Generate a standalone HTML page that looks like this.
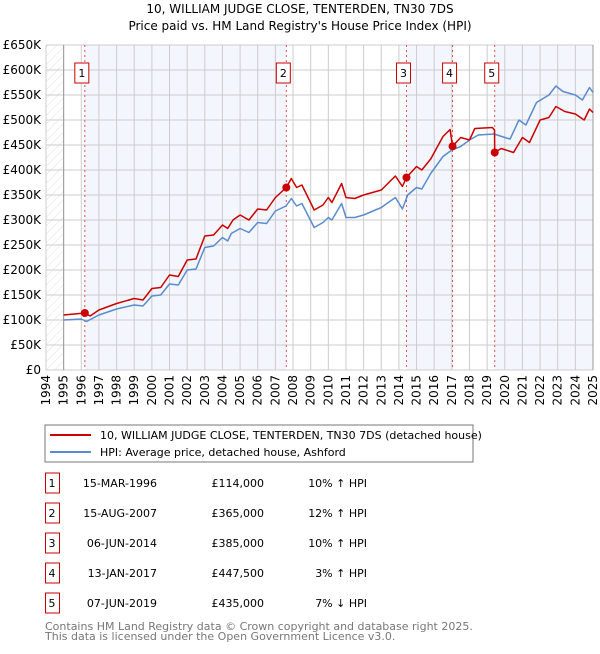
<!DOCTYPE html>
<html><head><meta charset="utf-8"><style>
body{margin:0;background:#fff;font-family:"DejaVu Sans","Liberation Sans",sans-serif;}
svg text{font-family:"DejaVu Sans","Liberation Sans",sans-serif;}
</style></head><body>
<svg id="c" width="600" height="650" xmlns="http://www.w3.org/2000/svg">
<defs><pattern id="hatch" width="6" height="6" patternUnits="userSpaceOnUse" patternTransform="rotate(45)"><line x1="0" y1="0" x2="0" y2="6" stroke="#d8d8d8" stroke-width="0.8"/></pattern></defs>
<text x="300" y="13" text-anchor="middle" font-size="12" fill="#000">10, WILLIAM JUDGE CLOSE, TENTERDEN, TN30 7DS</text>
<text x="300" y="30" text-anchor="middle" font-size="12" fill="#000">Price paid vs. HM Land Registry's House Price Index (HPI)</text>
<g id="plot"></g>
<rect x="45" y="425" width="428" height="37" fill="#fff" stroke="#777"/>
<line x1="50" y1="435" x2="91" y2="435" stroke="#cc0000" stroke-width="2"/>
<text x="100" y="439" font-size="11">10, WILLIAM JUDGE CLOSE, TENTERDEN, TN30 7DS (detached house)</text>
<line x1="50" y1="452" x2="91" y2="452" stroke="#5b8bd0" stroke-width="2"/>
<text x="100" y="456" font-size="11">HPI: Average price, detached house, Ashford</text>
<g id="table" font-size="11"></g>
<text x="45" y="630" font-size="11" fill="#777">Contains HM Land Registry data © Crown copyright and database right 2025.</text>
<text x="45" y="640" font-size="11" fill="#777">This data is licensed under the Open Government Licence v3.0.</text>
</svg>
<script>
const hpiYears=[1995,1996,1996.3,1997,1998,1999,1999.5,2000,2000.5,2001,2001.5,2002,2002.5,2003,2003.5,2004,2004.3,2004.5,2005,2005.5,2006,2006.5,2007,2007.6,2007.9,2008.2,2008.5,2009.2,2009.7,2010,2010.2,2010.75,2011,2011.5,2012,2013,2013.8,2014.2,2014.5,2015,2015.3,2015.8,2016.5,2017,2017.5,2018,2018.5,2019.4,2020,2020.3,2020.8,2021.2,2021.8,2022.5,2022.9,2023.3,2024,2024.4,2024.8,2025];
const hpiValues=[100,102,97,110,122,130,128,148,150,172,170,200,202,245,248,265,258,273,283,275,295,293,318,328,343,328,333,285,295,305,300,333,305,305,310,325,345,322,350,365,362,393,427,440,447,460,470,472,465,462,500,490,535,550,568,557,550,540,565,555];
const priceYears=[1995,1996.2,1996.5,1997,1998,1999,1999.5,2000,2000.5,2001,2001.5,2002,2002.5,2003,2003.5,2004,2004.3,2004.6,2005,2005.5,2006,2006.5,2007,2007.62,2007.9,2008.2,2008.5,2009.2,2009.7,2010,2010.2,2010.75,2011,2011.5,2012,2013,2013.8,2014.2,2014.43,2015,2015.3,2015.8,2016.5,2016.9,2017.04,2017.5,2018,2018.3,2019.3,2019.42,2019.43,2019.8,2020.5,2021,2021.4,2022,2022.5,2022.9,2023.4,2024,2024.5,2024.8,2025];
const priceValues=[110,114,108,120,133,143,140,163,165,190,187,220,222,268,270,290,283,300,310,300,322,320,345,365,383,365,370,320,330,345,335,373,345,343,350,360,388,367,385,407,400,422,467,481,447.5,465,460,483,485,480,435,443,435,465,455,500,505,527,517,512,500,522,515];
const saleYears=[1996.2,2007.62,2014.43,2017.04,2019.43];
const saleValues=[114,365,385,447.5,435];
const saleLabels=["1","2","3","4","5"];
const saleDates=["15-MAR-1996","15-AUG-2007","06-JUN-2014","13-JAN-2017","07-JUN-2019"];
const salePrices=["£114,000","£365,000","£385,000","£447,500","£435,000"];
const saleDiffs=["10% ↑ HPI","12% ↑ HPI","10% ↑ HPI","3% ↑ HPI","7% ↓ HPI"];
const yTicks=[0,50,100,150,200,250,300,350,400,450,500,550,600,650];
const yTickLabels=["£0","£50K","£100K","£150K","£200K","£250K","£300K","£350K","£400K","£450K","£500K","£550K","£600K","£650K"];
const xTicks=[1994,1995,1996,1997,1998,1999,2000,2001,2002,2003,2004,2005,2006,2007,2008,2009,2010,2011,2012,2013,2014,2015,2016,2017,2018,2019,2020,2021,2022,2023,2024,2025];

const NS="http://www.w3.org/2000/svg";
const X0=46,X1=593,Y0=370,Y1=45;
const xs=y=>X0+(y-1994)/(2025-1994)*(X1-X0);
const ys=v=>Y0-v/650*(Y0-Y1);
const plot=document.getElementById('plot');
function mk(tag,attrs,parent){const e=document.createElementNS(NS,tag);for(const k in attrs)e.setAttribute(k,attrs[k]);(parent||plot).appendChild(e);return e;}

const bandEdges=[saleYears[0],saleYears[1],saleYears[2],saleYears[3],saleYears[4],2025];
for(let i=0;i<bandEdges.length-1;i+=2){
 const r=mk('rect',{x:xs(bandEdges[i]),y:Y1,width:xs(bandEdges[i+1])-xs(bandEdges[i]),height:Y0-Y1,fill:'#f3f6fd'});
 
 
}
const h=mk('rect',{x:X0,y:Y1,width:xs(1995)-X0,height:Y0-Y1,fill:'url(#hatch)'});


yTicks.forEach((t,i)=>{
 const l=mk('line',{x1:X0,x2:X1,y1:ys(t),y2:ys(t),stroke:'#ccc'});
 
 
 const tx=mk('text',{x:X0-5,y:ys(t)+4,'text-anchor':'end','font-size':'12'});
 tx.textContent=yTickLabels[i];
 
 
});
xTicks.forEach(t=>{
 const l=mk('line',{x1:xs(t),x2:xs(t),y1:Y1,y2:Y0,stroke:'#ccc'});
 
 
 const tx=mk('text',{x:0,y:0,'font-size':'12',transform:`translate(${xs(t)+4},${Y0+5}) rotate(-90)`,'text-anchor':'end'});
 tx.textContent=t;
 
 
});
const ax=mk('line',{x1:xs(1995),x2:xs(1995),y1:Y1,y2:Y0,stroke:'#999'});


const ax2=mk('line',{x1:X1,x2:X1,y1:Y1,y2:Y0,stroke:'#999'});


saleYears.forEach((s,i)=>{
 const l=mk('line',{x1:xs(s),x2:xs(s),y1:Y1,y2:Y0,stroke:'#e05050','stroke-dasharray':'2,3','stroke-width':1});
 
 
 const b=mk('rect',{x:xs(s)-10,y:63,width:14,height:20,fill:'#fff',stroke:'#cc0000'});
 
 
 const t=mk('text',{x:xs(s)-3,y:77,'text-anchor':'middle','font-size':'11'});
 t.textContent=saleLabels[i];
 
 
});
function line(xa,va,color,name){
 const d=xa.map((x,i)=>(i?'L':'M')+xs(x).toFixed(1)+','+ys(va[i]).toFixed(1)).join('');
 const p=mk('path',{d:d,fill:'none',stroke:color,'stroke-width':1.5,'stroke-linejoin':'round'});
 
 
}
line(hpiYears,hpiValues,'#5b8bd0','hpi-line');
line(priceYears,priceValues,'#cc0000','property-line');
saleYears.forEach((s,i)=>{
 const c=mk('circle',{cx:xs(s),cy:ys(saleValues[i]),r:4,fill:'#cc0000'});
 
 
});
const tb=document.getElementById('table');
saleLabels.forEach((lab,i)=>{
 const y=483+i*30;
 const b=mk('rect',{x:45.5,y:y-10,width:14,height:20,fill:'#fff',stroke:'#cc0000'},tb);
 
 
 const cols=[[52,'middle',lab,'table-number'],[157,'end',saleDates[i],'table-date'],[264,'end',salePrices[i],'table-price'],[367,'end',saleDiffs[i],'table-hpi-diff']];
 cols.forEach(c=>{
  const t=mk('text',{x:c[0],y:y+4,'text-anchor':c[1]},tb);
  t.textContent=c[2];
  
  
 });
});
</script>
</body></html>
